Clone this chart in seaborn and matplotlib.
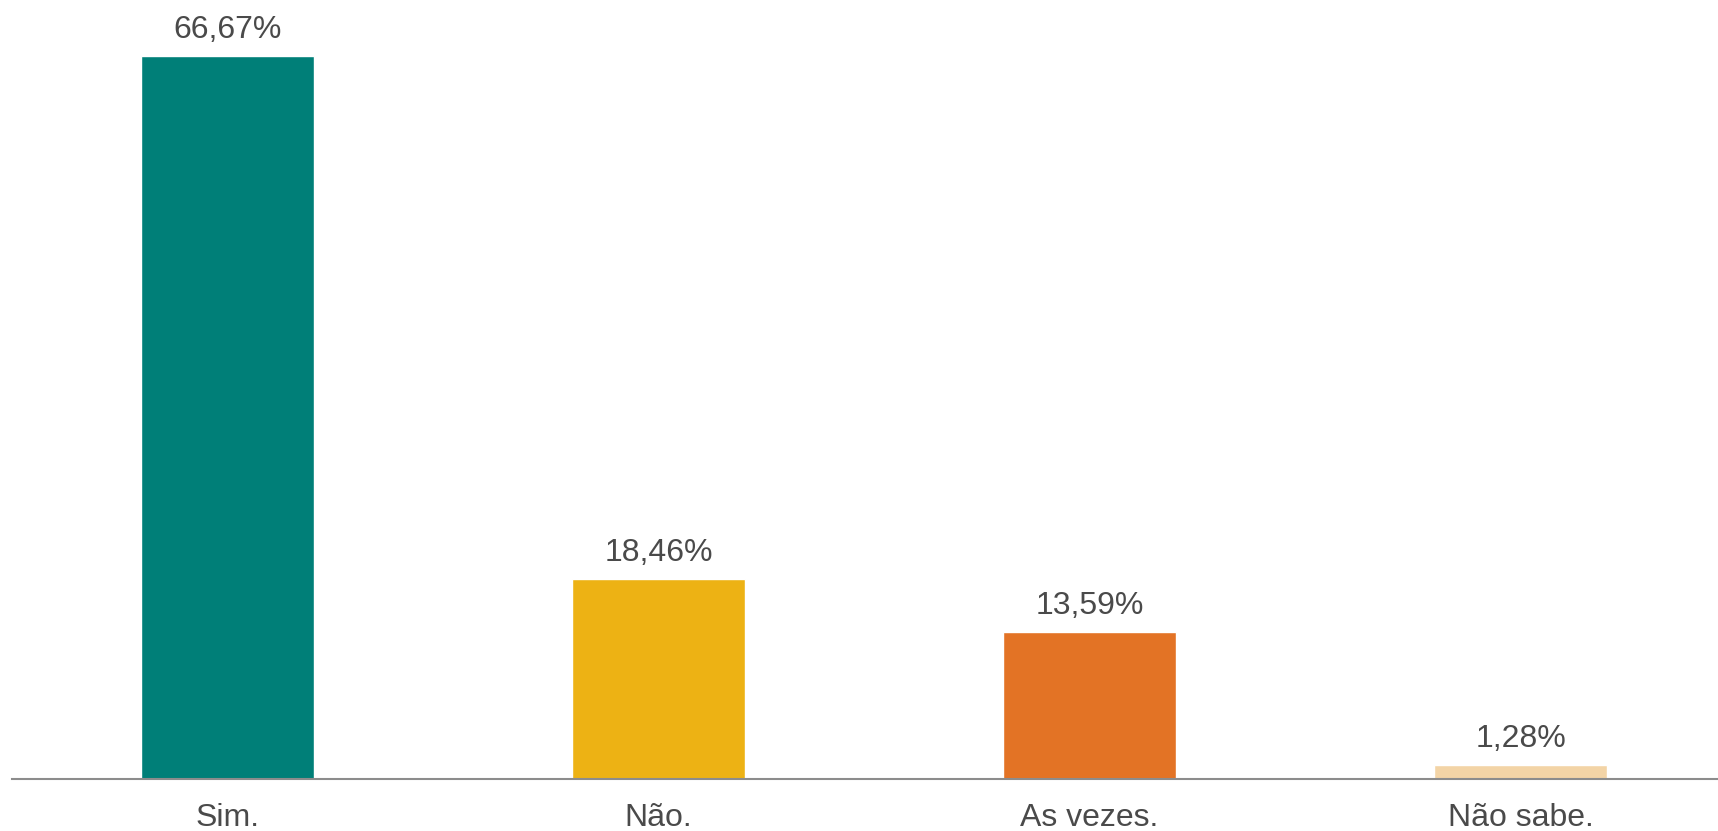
import matplotlib
matplotlib.use("Agg")
import pandas as pd
import seaborn as sns
from matplotlib import pyplot as plt

# datos del grafico
categorias = ["Sim.", "Não.", "As vezes.", "Não sabe."]
porcentajes = [66.67, 18.46, 13.59, 1.28]
colores = ["#007F78", "#EDB214", "#E37325", "#F3D4A6"]

sns.set_theme(style="white")
plt.rcParams['font.family'] = ['Liberation Sans', 'DejaVu Sans']

df = pd.DataFrame({"categoria": categorias, "porcentaje": porcentajes})

fig = plt.figure(figsize=(17.18, 8.31), dpi=100)
ax = fig.add_axes([12 / 1718, 1 - 779 / 831, 1 - 12 / 1718, 779 / 831])

sns.barplot(data=df, x="categoria", y="porcentaje", hue="categoria",
            palette=colores, width=0.4, saturation=1, legend=False, ax=ax)

texto_gris = "#4A4A4A"
for i, valor in enumerate(porcentajes):
    etiqueta = f"{valor:.2f}%".replace(".", ",")
    ax.annotate(etiqueta, (i, valor), xytext=(0, 13), textcoords="offset points",
                ha="center", va="baseline", fontsize=23, color=texto_gris)

ax.set_xlim(-0.5, 3.458)
ax.set_ylim(0, 71.83)
ax.set_xlabel("")
ax.set_ylabel("")
ax.set_yticks([])
ax.tick_params(axis="x", length=0, pad=17.5, labelsize=23, labelcolor=texto_gris)

for lado in ["top", "right", "left"]:
    ax.spines[lado].set_visible(False)
ax.spines["bottom"].set_color("#8C8C8C")
ax.spines["bottom"].set_linewidth(1.5)

fig.savefig("out.png", dpi=100)
